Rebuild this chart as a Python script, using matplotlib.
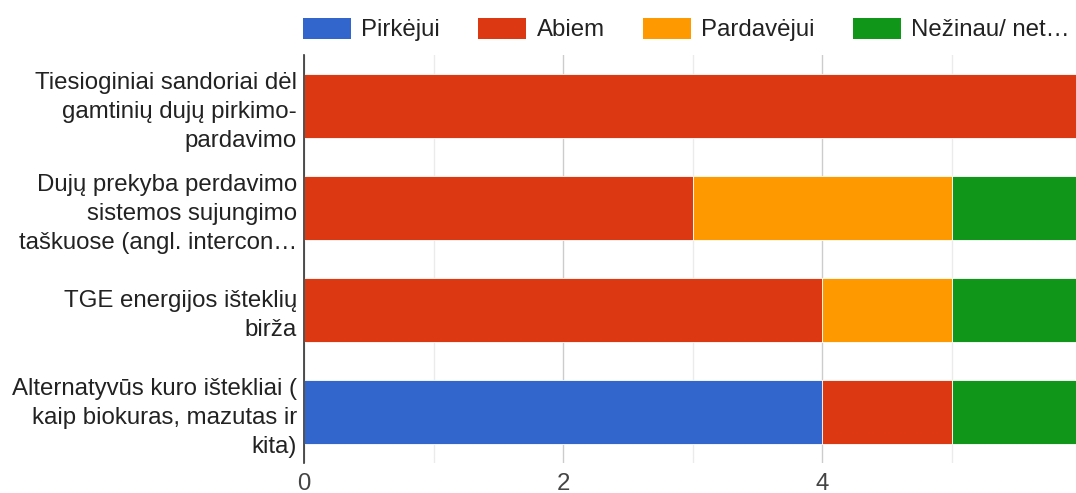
import matplotlib.pyplot as plt
import numpy as np
from matplotlib.patches import Patch
from matplotlib.ticker import MultipleLocator

plt.rcParams['font.family'] = ['Liberation Sans', 'DejaVu Sans']

categories = ['Tiesioginiai sandoriai dėl\ngamtinių dujų pirkimo-\npardavimo',
              'Dujų prekyba perdavimo\nsistemos sujungimo\ntaškuose (angl. intercon…',
              'TGE energijos išteklių\nbirža',
              'Alternatyvūs kuro ištekliai (\nkaip biokuras, mazutas ir\nkita)']
series_names = ['Pirkėjui', 'Abiem', 'Pardavėjui', 'Nežinau/ net…']
pirkejui = [0, 0, 0, 4]
abiem = [6, 3, 4, 1]
pardavejui = [0, 2, 1, 0]
nezinau = [0, 1, 1, 1]
colors = ['#3366cc', '#dc3912', '#ff9900', '#109618']

fs = 17.3

fig = plt.figure(figsize=(10.76, 4.93), dpi=100)
ax = fig.add_axes([304 / 1076, 1 - 463 / 493, 1 - 304 / 1076, (463 - 55) / 493])

y = np.arange(len(categories))
left = np.zeros(len(categories))
for vals, c in zip([pirkejui, abiem, pardavejui, nezinau], colors):
    vals = np.array(vals, dtype=float)
    ax.barh(y, vals, left=left, height=0.62, color=c, edgecolor='white',
            linewidth=0.6, zorder=3)
    left += vals

ax.set_ylim(len(categories) - 0.5, -0.5)
ax.set_xlim(0, (1076 - 304) / 129.5)
ax.xaxis.set_major_locator(MultipleLocator(2))
ax.xaxis.set_minor_locator(MultipleLocator(1))
ax.grid(axis='x', which='major', color='#cccccc', linewidth=1, zorder=0)
ax.grid(axis='x', which='minor', color='#ebebeb', linewidth=1, zorder=0)
ax.tick_params(axis='x', which='both', length=0, pad=7, labelsize=fs, colors='#444444')
ax.tick_params(axis='y', length=0, pad=5, labelsize=fs, colors='#222222')
ax.set_yticks(y)
ax.set_yticklabels(categories, linespacing=1.41)
for lab in ax.get_yticklabels():
    lab.set_horizontalalignment('right')
    lab.set_multialignment('right')

for s in ['top', 'right', 'bottom']:
    ax.spines[s].set_visible(False)
ax.spines['left'].set_color('#333333')
ax.spines['left'].set_linewidth(1.2)
ax.spines['left'].set_zorder(4)

handles = [Patch(facecolor=c, edgecolor='none') for c in colors]
fig.legend(handles, series_names, loc='center left', bbox_to_anchor=(303 / 1076, 1 - 29.5 / 493),
           ncol=4, frameon=False, fontsize=fs, handlelength=2.0, handleheight=1.0,
           handletextpad=0.42, columnspacing=1.6, borderpad=0, borderaxespad=0,
           labelcolor='#222222')

fig.savefig('out.png', dpi=100)
